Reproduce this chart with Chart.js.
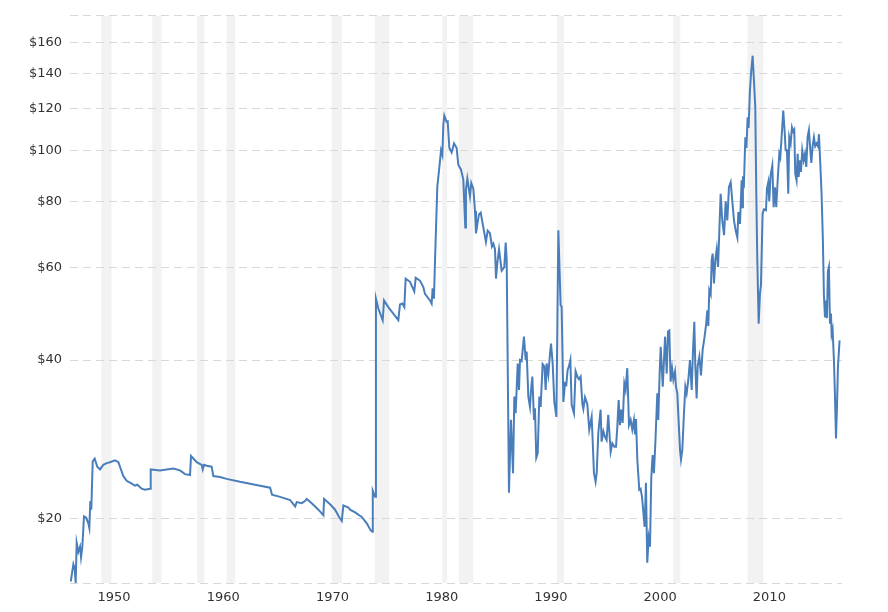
<!DOCTYPE html>
<html>
<head>
<meta charset="utf-8">
<title>Crude Oil Prices</title>
<script src="https://cdn.jsdelivr.net/npm/chart.js@4/dist/chart.umd.min.js"></script>
<style>
  html, body { margin: 0; padding: 0; background: #fff; }
  #wrap { width: 888px; height: 612px; }
</style>
</head>
<body>
<div id="wrap"><canvas id="line-chart" width="888" height="612"></canvas></div>
<script>
// values (decimal year, price in dollars)
const years = [
  1946.04, 1946.28, 1946.4, 1946.49, 1946.58, 1946.73, 1946.89, 1946.98, 1947.1, 1947.25,
  1947.44, 1947.65, 1947.74, 1947.83, 1947.92, 1948.05, 1948.23, 1948.47, 1948.72, 1949.02,
  1949.33, 1949.63, 1950.09, 1950.4, 1950.85, 1951.16, 1951.62, 1951.92, 1952.14, 1952.53,
  1952.84, 1953.3, 1953.36, 1954.21, 1954.82, 1955.43, 1956.04, 1956.5, 1956.96, 1957.05,
  1957.57, 1958.03, 1958.12, 1958.24, 1958.48, 1958.94, 1959.09, 1959.7, 1960.31, 1961.53,
  1962.46, 1963.37, 1964.29, 1964.47, 1965.2, 1966.12, 1966.58, 1966.73, 1967.19, 1967.49,
  1967.64, 1968.1, 1968.71, 1969.17, 1969.23, 1969.78, 1970.24, 1970.63, 1970.85, 1971.0,
  1971.46, 1971.61, 1972.07, 1972.68, 1973.14, 1973.5, 1973.65, 1973.69, 1973.9, 1973.98,
  1974.2, 1974.6, 1974.72, 1975.11, 1975.57, 1976.03, 1976.18, 1976.4, 1976.58, 1976.7,
  1977.1, 1977.49, 1977.62, 1978.01, 1978.32, 1978.47, 1978.93, 1979.08, 1979.17, 1979.29,
  1979.39, 1979.6, 1979.75, 1979.94, 1980.06, 1980.15, 1980.24, 1980.45, 1980.55, 1980.7,
  1980.91, 1981.13, 1981.37, 1981.52, 1981.77, 1981.98, 1982.16, 1982.22, 1982.35, 1982.59,
  1982.71, 1982.9, 1983.05, 1983.14, 1983.26, 1983.41, 1983.57, 1983.81, 1984.05, 1984.21,
  1984.42, 1984.6, 1984.73, 1984.88, 1984.97, 1985.09, 1985.25, 1985.49, 1985.73, 1985.86,
  1985.95, 1986.16, 1986.34, 1986.53, 1986.65, 1986.77, 1986.96, 1987.08, 1987.17, 1987.32,
  1987.53, 1987.69, 1987.78, 1987.93, 1988.08, 1988.18, 1988.3, 1988.45, 1988.54, 1988.66,
  1988.79, 1988.94, 1989.06, 1989.24, 1989.4, 1989.52, 1989.61, 1989.76, 1989.92, 1990.01,
  1990.16, 1990.31, 1990.5, 1990.68, 1990.89, 1990.98, 1991.14, 1991.29, 1991.41, 1991.53,
  1991.65, 1991.78, 1991.9, 1992.11, 1992.26, 1992.45, 1992.57, 1992.72, 1992.88, 1992.97,
  1993.12, 1993.33, 1993.51, 1993.73, 1993.82, 1993.94, 1994.09, 1994.19, 1994.34, 1994.55,
  1994.64, 1994.8, 1994.95, 1995.1, 1995.25, 1995.47, 1995.62, 1995.8, 1995.96, 1996.08,
  1996.2, 1996.32, 1996.44, 1996.57, 1996.72, 1996.84, 1996.99, 1997.15, 1997.3, 1997.45,
  1997.6, 1997.7, 1997.79, 1997.91, 1998.09, 1998.21, 1998.34, 1998.46, 1998.58, 1998.7,
  1998.82, 1998.95, 1999.07, 1999.19, 1999.31, 1999.43, 1999.56, 1999.74, 1999.83, 1999.95,
  2000.05, 2000.24, 2000.45, 2000.6, 2000.72, 2000.84, 2000.96, 2001.09, 2001.21, 2001.36,
  2001.45, 2001.57, 2001.7, 2001.82, 2001.91, 2002.03, 2002.18, 2002.31, 2002.43, 2002.58,
  2002.73, 2002.89, 2003.01, 2003.13, 2003.22, 2003.34, 2003.44, 2003.59, 2003.74, 2003.89,
  2004.05, 2004.2, 2004.32, 2004.41, 2004.5, 2004.63, 2004.72, 2004.81, 2004.93, 2005.05,
  2005.18, 2005.3, 2005.39, 2005.54, 2005.69, 2005.85, 2006.0, 2006.15, 2006.3, 2006.46,
  2006.61, 2006.76, 2006.91, 2007.07, 2007.16, 2007.31, 2007.46, 2007.52, 2007.58, 2007.66,
  2007.8, 2007.9, 2008.01, 2008.1, 2008.22, 2008.34, 2008.47, 2008.59, 2008.71, 2008.8,
  2008.89, 2009.02, 2009.14, 2009.23, 2009.38, 2009.5, 2009.69, 2009.78, 2009.9, 2009.99,
  2010.11, 2010.27, 2010.39, 2010.51, 2010.63, 2010.76, 2010.91, 2011.0, 2011.15, 2011.27,
  2011.4, 2011.49, 2011.61, 2011.73, 2011.82, 2011.95, 2012.07, 2012.19, 2012.28, 2012.37,
  2012.49, 2012.59, 2012.68, 2012.8, 2012.89, 2013.01, 2013.14, 2013.26, 2013.38, 2013.5,
  2013.62, 2013.75, 2013.84, 2013.96, 2014.08, 2014.2, 2014.33, 2014.45, 2014.54, 2014.66,
  2014.78, 2014.9, 2014.99, 2015.09, 2015.18, 2015.27, 2015.36, 2015.45, 2015.55, 2015.64,
  2015.7, 2015.79, 2015.91, 2016.0, 2016.1, 2016.19, 2016.28, 2016.43
];

const prices = [
  15.2, 16.4, 16.1, 15.1, 18.0, 17.3, 17.7, 16.9, 17.7, 20.2,
  20.1, 19.6, 19.2, 21.6, 20.8, 25.7, 26.0, 25.1, 24.8, 25.3,
  25.5, 25.6, 25.8, 25.6, 24.1, 23.6, 23.3, 23.1, 23.2, 22.8,
  22.7, 22.8, 24.8, 24.7, 24.8, 24.9, 24.7, 24.3, 24.2, 26.3,
  25.6, 25.3, 24.8, 25.3, 25.2, 25.1, 24.1, 24.0, 23.8, 23.5,
  23.3, 23.1, 22.9, 22.2, 22.0, 21.7, 21.1, 21.5, 21.4, 21.6,
  21.8, 21.4, 20.8, 20.3, 21.8, 21.3, 20.8, 20.1, 19.8, 21.2,
  21.0, 20.8, 20.55, 20.15, 19.6, 19.0, 18.9, 22.6, 22.0, 52.3,
  50.1, 47.6, 51.9, 50.4, 49.0, 47.6, 51.0, 51.2, 50.4, 57.1,
  56.3, 54.0, 57.3, 56.6, 55.0, 53.4, 51.9, 51.2, 54.7, 52.3,
  61.9, 85.4, 91.3, 100, 98, 111.7, 116.4, 113.3, 113.5, 101,
  99.1, 103.1, 101, 93.9, 91.9, 88.0, 71.4, 84.2, 88.4, 81.8,
  86.7, 84.5, 76.7, 69.6, 72.3, 75.6, 76.2, 71.4, 67.0, 70.4,
  69.6, 65.7, 66.5, 64.9, 57.1, 61.1, 64.9, 59.1, 60.0, 66.8,
  62.0, 22.4, 30.8, 24.4, 34.1, 31.7, 39.4, 35.1, 40.0, 39.8,
  44.3, 40.0, 41.5, 34.1, 32.6, 35.1, 37.2, 30.8, 32.4, 26.1,
  26.6, 34.1, 32.6, 39.3, 38.9, 35.1, 39.4, 37.5, 41.2, 43.0,
  39.4, 33.3, 31.2, 70.5, 50.8, 50.5, 33.3, 36.1, 35.9, 38.3,
  38.9, 40.0, 32.9, 31.7, 38.1, 37.1, 36.8, 37.2, 33.0, 32.3,
  34.0, 33.0, 29.5, 31.2, 28.2, 24.4, 23.5, 24.4, 29.1, 32.2,
  28.0, 29.3, 28.6, 28.2, 31.5, 26.8, 27.8, 27.4, 27.4, 29.9,
  33.6, 30.1, 32.2, 30.4, 36.1, 35.1, 38.6, 30.1, 30.8, 29.5,
  30.8, 28.9, 30.9, 25.9, 22.7, 22.8, 22.0, 20.6, 19.3, 23.4,
  16.5, 18.4, 17.7, 24.0, 26.4, 24.4, 27.8, 34.6, 30.8, 37.5,
  42.4, 35.6, 44.3, 37.7, 45.3, 45.5, 36.4, 38.6, 36.7, 38.0,
  35.6, 34.6, 30.4, 27.0, 25.9, 27.0, 31.7, 35.6, 34.6, 36.7,
  40.0, 35.1, 41.8, 47.3, 39.0, 33.8, 39.0, 40.6, 37.4, 41.8,
  44.0, 46.6, 49.7, 46.4, 54.3, 53.3, 61.9, 63.7, 55.9, 61.9,
  64.9, 60.1, 67.5, 82.7, 73.6, 69.0, 80.0, 73.6, 85.1, 87.0,
  80.0, 73.6, 70.5, 68.3, 76.4, 72.5, 87.7, 78.0, 89.3, 84.7,
  105.9, 101.0, 115.5, 110.3, 129.8, 141.6, 151.2, 135.6, 120.6, 83.9,
  62.8, 46.9, 53.5, 55.5, 75.8, 77.3, 77.0, 84.7, 87.0, 80.0,
  89.6, 93.6, 78.0, 85.1, 78.0, 87.7, 98.5, 97.0, 108.2, 119.0,
  108.6, 100, 100, 82.7, 105.9, 103, 110.6, 108.6, 109.5, 90.3,
  87.7, 98.5, 89.0, 95.7, 91.0, 100, 95.7, 98.5, 93.0, 105.9,
  109.2, 100, 94.6, 101.8, 105.9, 101.8, 103, 101.8, 107.3, 94.6,
  82.7, 67.5, 53.5, 48.2, 51.9, 48.0, 59.0, 60.1, 46.9, 49.0,
  44.8, 45.7, 40.0, 34.6, 28.4, 32.6, 38.9, 43.6
];

// US recessions shaded behind the line [start, end]
const recessions = [
  [1948.85, 1949.77], [1953.5, 1954.35], [1957.6, 1958.28], [1960.3, 1961.1],
  [1969.92, 1970.87], [1973.86, 1975.2], [1980.05, 1980.5], [1981.55, 1982.88],
  [1990.55, 1991.2], [2001.2, 2001.85], [2008.0, 2009.45]
];

const xTicks = [1950, 1960, 1970, 1980, 1990, 2000, 2010];
const yTicks = [20, 40, 60, 80, 100, 120, 140, 160];
const yMin = 15.1;
const yMax = 180;

const recessionBands = {
  id: 'recessionBands',
  beforeDraw(chart) {
    const { ctx, chartArea, scales } = chart;
    ctx.save();
    ctx.fillStyle = '#f2f2f2';
    recessions.forEach(([a, b]) => {
      const x0 = scales.x.getPixelForValue(a);
      const x1 = scales.x.getPixelForValue(b);
      ctx.fillRect(x0, chartArea.top, x1 - x0, chartArea.bottom - chartArea.top);
    });
    ctx.restore();
  }
};

window.onload = () => {
  const tickFont = { family: 'DejaVu Sans', size: 13 };

  new Chart(document.getElementById('line-chart'), {
    type: 'line',
    data: {
      datasets: [{
        data: years.map((y, i) => ({ x: y, y: prices[i] })),
        borderColor: '#4a7ebb',
        borderWidth: 2,
        pointRadius: 0,
        tension: 0,
        fill: false
      }]
    },
    options: {
      responsive: false,
      animation: false,
      layout: { padding: { top: 15, right: 46, left: 0, bottom: 0 } },
      plugins: { legend: { display: false }, tooltip: { enabled: false } },
      scales: {
        x: {
          type: 'linear',
          min: 1945.97,
          max: 2016.65,
          grid: { display: false, drawTicks: false },
          border: { display: false },
          ticks: { font: tickFont, color: '#333', padding: 7, maxRotation: 0, callback: v => String(v) },
          afterBuildTicks: s => { s.ticks = xTicks.map(v => ({ value: v })); },
          afterFit: s => { s.height = 29; }
        },
        y: {
          type: 'logarithmic',
          min: yMin,
          max: yMax,
          grid: { color: '#d8d8d8', drawTicks: false },
          border: { display: false, dash: [8, 5] },
          ticks: {
            font: tickFont, color: '#333', padding: 8,
            callback: v => yTicks.includes(v) ? '$' + v : ''
          },
          afterBuildTicks: s => { s.ticks = [yMin].concat(yTicks, [yMax]).map(v => ({ value: v })); },
          afterFit: s => { s.width = 70; }
        }
      }
    },
    plugins: [recessionBands]
  });
};
</script>
</body>
</html>
